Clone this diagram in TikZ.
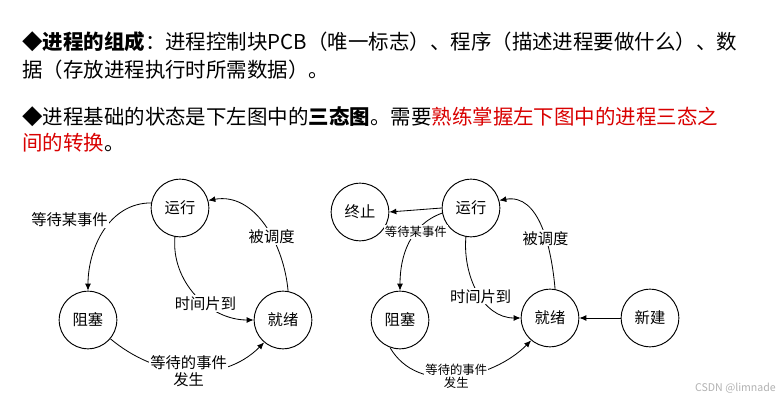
\documentclass[tikz,border=0pt]{standalone}
\usepackage{fontspec}
\setmainfont{Noto Sans CJK SC}
\newfontfamily\cjk{Noto Sans CJK SC}
\usetikzlibrary{arrows.meta}
\begin{document}
\begin{tikzpicture}[x=0.85pt,y=-0.85pt,
  st/.style={circle,draw,line width=0.8pt,minimum size=49pt,inner sep=0pt,font=\fontsize{13}{14}\selectfont},
  ar/.style={-{Latex[length=6pt,width=5pt]},line width=0.7pt},
  lb/.style={fill=white,inner sep=1pt,font=\fontsize{13}{14}\selectfont,align=center},
  tx/.style={anchor=west,inner sep=0pt,font=\fontsize{17.4}{19}\selectfont}]
\fill[white] (0,0) rectangle (784,406);
\useasboundingbox (0,0) rectangle (784,406);
\node[tx] (t1) at (22,42) {◆\textbf{进程的组成}：进程控制块PCB（唯一标志）、程序（描述进程要做什么）、数};
\node[tx] (t2) at (22,70) {据（存放进程执行时所需数据）。};
\node[tx] (t3) at (22,117) {◆进程基础的状态是下左图中的\textbf{三态图}。需要\textcolor{red!85!black}{熟练掌握左下图中的进程三态之}};
\node[tx] (t4) at (22,143) {\textcolor{red!85!black}{间的转换}。};
% left
\node[st] (r1) at (180,208) {运行};
\node[st] (b1) at (88,320) {阻塞};
\node[st] (j1) at (283,320) {就绪};
\draw[ar] (r1.170) to[out=180,in=90] node[lb,pos=0.45,above left=-2pt] (l1) {等待某事件} (b1.north);
\draw[ar] (j1.80) to[out=95,in=10] node[lb,pos=0.4] (l2) {被调度} (r1.15);
\draw[ar] (r1.260) to[out=265,in=180] node[lb,pos=0.6] (l3) {时间片到} (j1.west);
\draw[ar] (b1.-40) to[out=-40,in=225] node[lb,pos=0.5] (l4) {等待的事件\\发生} (j1.-130);
% right
\node[st] (e2) at (360,212) {终止};
\node[st] (r2) at (471,208) {运行};
\node[st] (b2) at (400,320) {阻塞};
\node[st] (j2) at (550,318) {就绪};
\node[st] (n2) at (650,318) {新建};
\draw[ar] (r2.west) -- (e2.east);
\draw[ar] (r2.190) to[out=200,in=90] node[lb,pos=0.35,font=\fontsize{10.5}{11}\selectfont] (l5) {等待某事件} (b2.north);
\draw[ar] (j2.80) to[out=95,in=10] node[lb,pos=0.4] (l6) {被调度} (r2.15);
\draw[ar] (r2.260) to[out=265,in=180] node[lb,pos=0.55] (l7) {时间片到} (j2.west);
\draw[ar] (b2.-110) to[out=-60,in=225] node[lb,pos=0.5,font=\fontsize{10.5}{11}\selectfont] (l8) {等待的事件\\发生} (j2.-130);
\draw[ar] (n2.west) -- (j2.east);
\node[anchor=east,text=gray!60,font=\fontsize{9}{10}\selectfont] (w) at (780,388) {CSDN @limnade};
\end{tikzpicture}
\end{document}
